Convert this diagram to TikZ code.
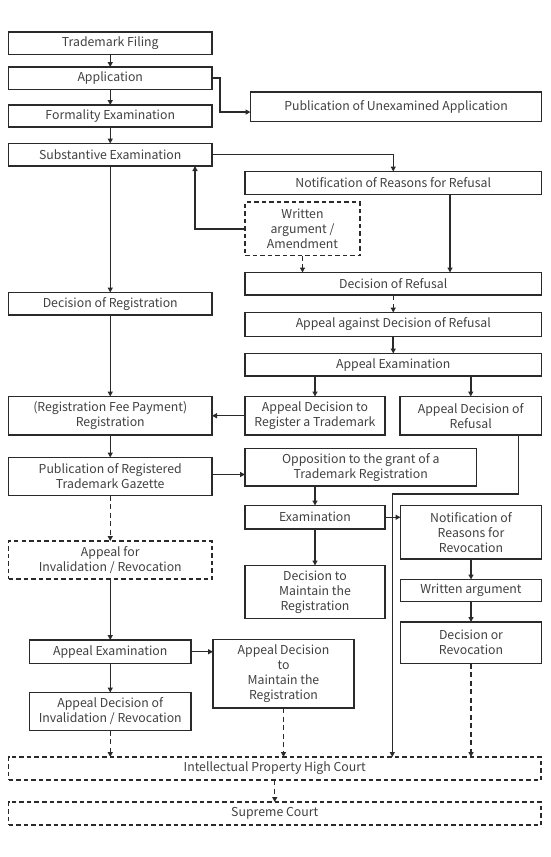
\documentclass[tikz,border=0pt]{standalone}
\usepackage{fontspec}
\setmainfont{Noto Sans CJK JP}
\usetikzlibrary{arrows.meta}
\definecolor{lc}{HTML}{2A2A2A}
\definecolor{tc}{HTML}{404040}
\tikzset{
  box/.style={draw=lc, line width=1.5pt, inner sep=0pt, outer sep=0pt, align=center,
    text=tc, font=\fontsize{12.3}{15}\selectfont},
  dbox/.style={dash pattern=on 4.5pt off 3pt, line width=1.4pt},
  conn/.style={draw=lc, line width=1.3pt, -{Triangle[length=5pt,width=5pt]}},
  tconn/.style={conn, line width=2pt},
  dconn/.style={conn, dash pattern=on 5pt off 3.5pt},
}
\newcommand\mybox[7][]{\node[box,#1,minimum width={#5pt-#3pt},minimum height={#6pt-#4pt}] (#2) at ({(#3+#5)/2},{(#4+#6)/2}) {#7};}
\begin{document}
\begin{tikzpicture}[x=1pt,y=-1pt]
\useasboundingbox (0,0) rectangle (550,857);
\mybox{tf}{8.5}{32}{212}{54.5}{Trademark Filing}
\mybox{app}{8.5}{67}{212}{89.5}{Application}
\mybox{pua}{250.5}{92}{541.5}{121.5}{Publication of Unexamined Application}
\mybox{fe}{8.5}{105}{212}{127}{Formality Examination}
\mybox{se}{8.5}{143.5}{212}{166}{Substantive Examination}
\mybox{nrr}{245}{171.5}{541.5}{194.5}{Notification of Reasons for Refusal}
\mybox[dbox]{wa}{245}{202}{360}{255.5}{Written\\argument /\\Amendment}
\mybox{dor}{245}{272.5}{541.5}{295}{Decision of Refusal}
\mybox{dreg}{8.5}{292.5}{212}{315}{Decision of Registration}
\mybox{aad}{245}{312.5}{541.5}{336.5}{Appeal against Decision of Refusal}
\mybox{ae}{245}{353.5}{541.5}{376}{Appeal Examination}
\mybox{reg}{8.5}{396.5}{212}{435}{(Registration Fee Payment)\\Registration}
\mybox{adr}{245}{396.5}{385}{435}{Appeal Decision to\\Register a Trademark}
\mybox{adref}{400}{396.5}{541.5}{435}{Appeal Decision of\\Refusal}
\mybox{prg}{8.5}{457.5}{212}{495.5}{Publication of Registered\\Trademark Gazette}
\mybox{opp}{245}{448.5}{476.5}{486}{Opposition to the grant of a\\Trademark Registration}
\mybox{ex}{245}{505.5}{385}{529}{Examination}
\mybox{nrrev}{400.5}{505.5}{541.5}{559}{Notification of\\Reasons for\\Revocation}
\mybox[dbox]{afi}{8.5}{541}{212}{579}{Appeal for\\Invalidation / Revocation}
\mybox{dtm}{245}{565.5}{385}{618.5}{Decision to\\Maintain the\\Registration}
\mybox{wa2}{400.5}{579.5}{541.5}{601.5}{Written argument}
\mybox{dor2}{400.5}{622}{541.5}{663.5}{Decision or\\Revocation}
\mybox{ae2}{29.5}{640}{191}{663.5}{Appeal Examination}
\mybox{adtm}{213}{639.5}{354}{708}{Appeal Decision\\to\\Maintain the\\Registration}
\mybox{adoi}{29.5}{692.5}{191}{730.5}{Appeal Decision of\\Invalidation / Revocation}
\mybox[dbox]{iphc}{8.5}{757}{541}{780}{Intellectual Property High Court}
\mybox[dbox]{sc}{8.5}{802}{541}{825}{Supreme Court}
% helper coordinates
\coordinate (upx) at (195,0);
\coordinate (c450) at (450,0);
\coordinate (r1) at (518.3,494);
\coordinate (r2) at (392.3,494);
% connectors
\draw[conn] (tf) -- (app);
\draw[conn] (app) -- (fe);
\draw[conn] (fe) -- (se);
\draw[tconn] (app.east) -- ++(7.5,0) |- ([yshift=-5.3pt]pua.west);
\draw[conn] (se.east) -| (nrr.north);
\draw[tconn] (wa.west) -| (upx |- se.south);
\draw[conn] (c450 |- nrr.south) -- (c450 |- dor.north);
\draw[dconn] (wa.south) -- (wa.south |- dor.north);
\draw[dconn] (dor) -- (aad);
\draw[tconn] (aad) -- (ae);
\draw[tconn] (ae.south -| adr.north) -- (adr.north);
\draw[tconn] (ae.south -| adref.north) -- (adref.north);
\draw[conn] (se) -- (dreg);
\draw[conn] (dreg) -- (reg);
\draw[conn] (adr) -- (reg);
\draw[conn] (reg) -- (prg);
\draw[conn] ([yshift=2pt]prg.east) -- ([yshift=2pt]prg.east -| opp.west);
\draw[dconn] (prg) -- (afi);
\draw[tconn] (opp.south -| ex.north) -- (ex.north);
\draw[conn] (ex.east) -- (ex.east -| nrrev.west);
\draw[tconn] (ex) -- (dtm);
\draw[tconn] (nrrev) -- (wa2);
\draw[tconn] (wa2) -- (dor2);
\draw[conn] (r1 |- adref.south) -- (r1) -- (r2) -- (r2 |- iphc.north);
\draw[conn] (afi) -- (ae2);
\draw[conn] (ae2.east) -- (ae2.east -| adtm.west);
\draw[conn] (ae2) -- (adoi);
\draw[dconn] (adoi.south) -- (adoi.south |- iphc.north);
\draw[dconn] (adtm.south) -- (adtm.south |- iphc.north);
\draw[dconn] (dor2.south) -- (dor2.south |- iphc.north);
\draw[dconn] (iphc) -- (sc);
\end{tikzpicture}
\end{document}
